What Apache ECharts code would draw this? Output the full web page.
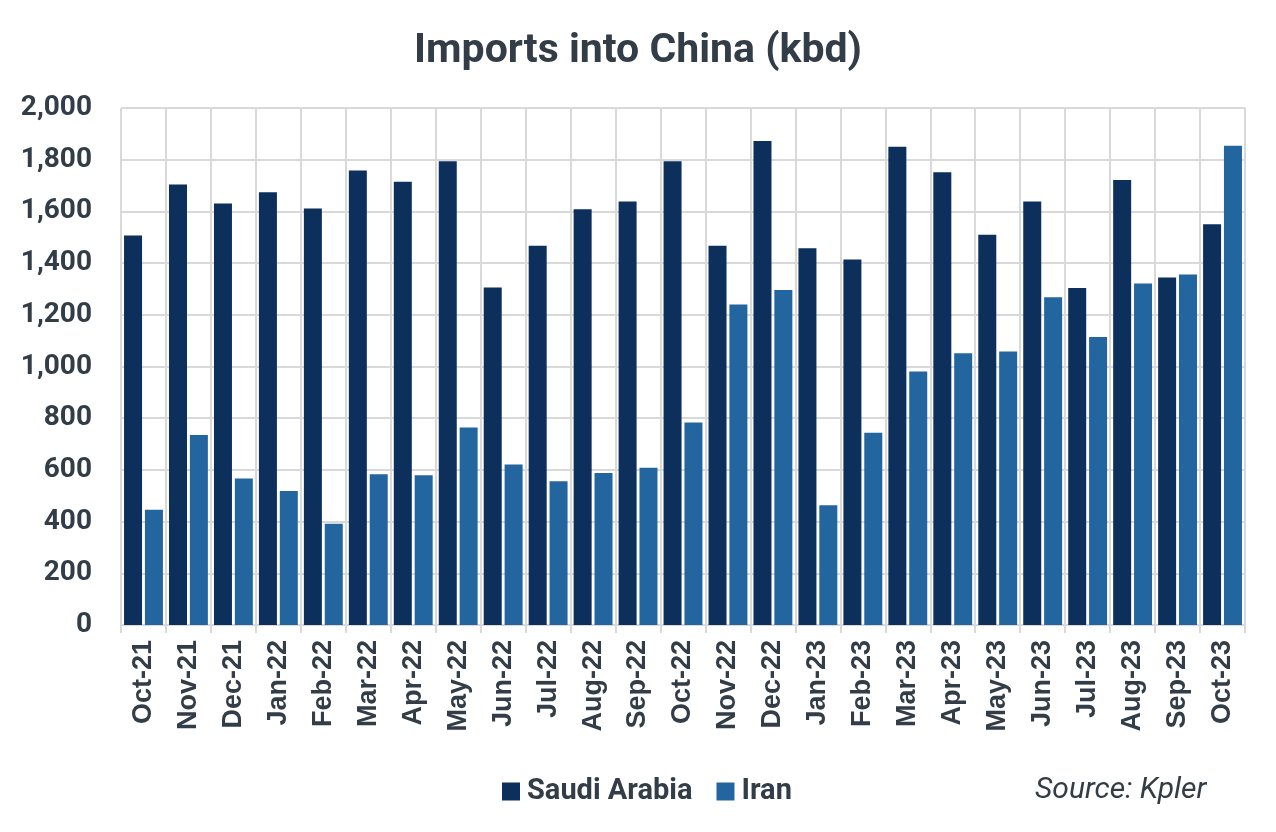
<!DOCTYPE html>
<html>
<head>
<meta charset="utf-8">
<script src="https://cdn.jsdelivr.net/npm/echarts@6/dist/echarts.min.js"></script>
<style>
html,body{margin:0;padding:0;background:#fff;}
#chart{width:1276px;height:832px;}
</style>
</head>
<body>
<div id="chart"></div>
<script>
const categories = ["Oct-21","Nov-21","Dec-21","Jan-22","Feb-22","Mar-22","Apr-22","May-22","Jun-22","Jul-22","Aug-22","Sep-22","Oct-22","Nov-22","Dec-22","Jan-23","Feb-23","Mar-23","Apr-23","May-23","Jun-23","Jul-23","Aug-23","Sep-23","Oct-23"];
const saudiArabia = [1507,1704,1631,1674,1611,1758,1715,1794,1306,1467,1608,1638,1794,1467,1872,1457,1414,1850,1751,1510,1638,1304,1721,1344,1550];
const iran = [446,735,567,518,392,583,579,764,621,556,588,608,783,1240,1296,463,744,981,1051,1058,1268,1114,1321,1356,1854];
const yTicks = [0,200,400,600,800,1000,1200,1400,1600,1800,2000];

const textColor = '#333d48';
const chart = echarts.init(document.getElementById('chart'));
chart.setOption({
  backgroundColor: '#ffffff',
  animation: false,
  title: {
    text: 'Imports into China (kbd)',
    left: 'center',
    top: 26,
    textStyle: {fontFamily: 'Roboto', fontWeight: 'bold', fontSize: 41, color: textColor}
  },
  legend: {
    data: ['Saudi Arabia','Iran'],
    left: 497,
    top: 772,
    itemWidth: 18,
    itemHeight: 18,
    itemGap: 24,
    icon: 'rect',
    textStyle: {fontFamily: 'Roboto', fontWeight: 'bold', fontSize: 29, color: textColor, padding: [0,0,0,2]}
  },
  graphic: [{
    type: 'text',
    x: 1035,
    y: 790,
    style: {text: 'Source: Kpler', fontFamily: 'Roboto', fontStyle: 'italic', fontSize: 30, fill: textColor, verticalAlign: 'middle'}
  }],
  grid: {left: 121, right: 31, top: 108, bottom: 207, containLabel: false},
  xAxis: {
    type: 'category',
    data: categories,
    axisLine: {show: true, lineStyle: {color: '#d9d9d9', width: 2}},
    axisTick: {show: true, length: 8, lineStyle: {color: '#d9d9d9', width: 2}},
    splitLine: {show: true, lineStyle: {color: '#d9d9d9', width: 2}},
    axisLabel: {rotate: 90, margin: 15, fontFamily: 'Liberation Sans', fontWeight: 'bold', fontSize: 27, color: textColor}
  },
  yAxis: {
    type: 'value',
    min: 0,
    max: 2000,
    interval: 200,
    axisLine: {show: false},
    axisTick: {show: false},
    splitLine: {show: true, lineStyle: {color: '#d9d9d9', width: 2}},
    axisLabel: {
      margin: 29,
      fontFamily: 'Roboto', fontWeight: 'bold', fontSize: 28, color: textColor,
      formatter: v => yTicks.includes(v) ? v.toLocaleString('en-US') : ''
    }
  },
  series: [
    {name: 'Saudi Arabia', type: 'bar', data: saudiArabia, barWidth: 18, barGap: '16%', itemStyle: {color: '#0c2f5b'}},
    {name: 'Iran', type: 'bar', data: iran, barWidth: 18, barGap: '16%', itemStyle: {color: '#23669f'}}
  ]
});
</script>
</body>
</html>
